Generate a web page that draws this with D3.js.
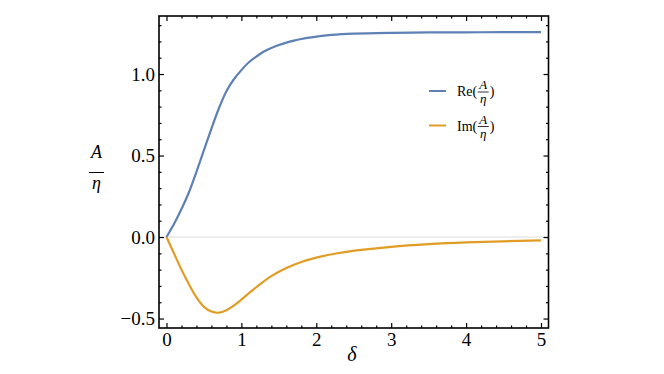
<!DOCTYPE html>
<html><head><meta charset="utf-8">
<script src="https://cdn.jsdelivr.net/npm/d3@7"></script>
<style>
body{margin:0;background:#fff;}
svg{display:block;}
svg text{font-family:"Liberation Serif","Times New Roman",serif !important;}
</style></head>
<body><svg id="c" width="664" height="374"></svg>
<script>
const reDelta = [0,0.1,0.2,0.3,0.4,0.5,0.6,0.7,0.8,0.9,1.0,1.1,1.2,1.3,1.4,1.5,1.6,1.7,1.8,1.9,2.0,2.2,2.5,3,3.5,4,4.5,5];
const reValues = [0,0.08,0.172,0.275,0.40,0.533,0.665,0.79,0.895,0.968,1.024,1.072,1.107,1.138,1.16,1.178,1.193,1.205,1.215,1.223,1.23,1.24,1.248,1.253,1.255,1.256,1.257,1.257];
const imDelta = [0,0.1,0.2,0.3,0.4,0.5,0.6,0.7,0.8,0.9,1.0,1.1,1.2,1.4,1.6,1.8,2.0,2.3,2.6,3,3.5,4,4.5,5];
const imValues = [0,-0.10,-0.20,-0.29,-0.37,-0.428,-0.457,-0.464,-0.449,-0.42,-0.384,-0.345,-0.307,-0.24,-0.19,-0.153,-0.126,-0.098,-0.079,-0.060,-0.044,-0.033,-0.026,-0.021];
const xTicks = [0,1,2,3,4,5];
const xTickLabels = ["0","1","2","3","4","5"];
const yTicks = [-0.5,0,0.5,1.0];
const yTickLabels = ["\u22120.5","0.0","0.5","1.0"];
const seriesNames = ["Re","Im"];
const colors = ["#5E81B5","#E19C24"];

const svg = d3.select("#c");
const L=159, R=548.5, T=16, B=328;
const x = d3.scaleLinear().domain([-0.1,5.1]).range([L,R]);
const y = d3.scaleLinear().domain([-0.558,1.356]).range([B,T]);

const xMinor = d3.range(0,5.1,0.2).filter(v=>Math.abs(v-Math.round(v))>1e-6);
const yMinor = d3.range(-0.5,1.31,0.1).filter(v=>Math.abs(v*2-Math.round(v*2))>1e-6);

svg.append("line").attr("x1",L).attr("x2",R).attr("y1",y(0)).attr("y2",y(0))
  .attr("stroke","#dcdcdc").attr("stroke-width",1);

const line = d3.line().x(d=>x(d[0])).y(d=>y(d[1])).curve(d3.curveCatmullRom.alpha(0.5));
const data = [d3.zip(reDelta,reValues), d3.zip(imDelta,imValues)];
data.forEach((d,i)=>{
  svg.append("path").attr("d",line(d)).attr("fill","none")
    .attr("stroke",colors[i]).attr("stroke-width",2.2).attr("stroke-linejoin","round");
});

function styleAxis(g){
  g.attr("font-family",null);
  g.select(".domain").remove();
  g.selectAll(".tick line").attr("stroke","#000").attr("stroke-width",1.2);
  g.selectAll("text").attr("font-size",19).attr("fill","#000");
}
svg.append("g").attr("transform",`translate(0,${B})`)
  .call(d3.axisBottom(x).tickValues(xTicks).tickFormat((d,i)=>xTickLabels[i]).tickSize(-5).tickPadding(5))
  .call(styleAxis);
svg.append("g").attr("transform",`translate(0,${B})`)
  .call(d3.axisBottom(x).tickValues(xMinor).tickFormat("").tickSize(-2.5)).call(styleAxis);
svg.append("g").attr("transform",`translate(0,${T})`)
  .call(d3.axisTop(x).tickValues(xTicks).tickFormat("").tickSize(-5)).call(styleAxis);
svg.append("g").attr("transform",`translate(0,${T})`)
  .call(d3.axisTop(x).tickValues(xMinor).tickFormat("").tickSize(-2.5)).call(styleAxis);
svg.append("g").attr("transform",`translate(${L},0)`)
  .call(d3.axisLeft(y).tickValues(yTicks).tickFormat((d,i)=>yTickLabels[i]).tickSize(-5).tickPadding(4))
  .call(styleAxis);
svg.append("g").attr("transform",`translate(${L},0)`)
  .call(d3.axisLeft(y).tickValues(yMinor).tickFormat("").tickSize(-2.5)).call(styleAxis);
svg.append("g").attr("transform",`translate(${R},0)`)
  .call(d3.axisRight(y).tickValues(yTicks).tickFormat("").tickSize(-5)).call(styleAxis);
svg.append("g").attr("transform",`translate(${R},0)`)
  .call(d3.axisRight(y).tickValues(yMinor).tickFormat("").tickSize(-2.5)).call(styleAxis);

svg.append("rect").attr("x",L).attr("y",T).attr("width",R-L).attr("height",B-T)
  .attr("fill","none").attr("stroke","#000").attr("stroke-width",1.6);

svg.append("text").attr("x",352).attr("y",361).attr("text-anchor","middle")
  .attr("font-size",20).attr("font-style","italic").text("\u03b4");
svg.append("text").attr("x",96.5).attr("y",158).attr("text-anchor","middle")
  .attr("font-size",18).attr("font-style","italic").text("A");
svg.append("line").attr("x1",89).attr("x2",104).attr("y1",172.5).attr("y2",172.5)
  .attr("stroke","#000").attr("stroke-width",1);
svg.append("text").attr("x",96.5).attr("y",189).attr("text-anchor","middle")
  .attr("font-size",18).attr("font-style","italic").text("\u03b7");

const legY = [91,125.5];
seriesNames.forEach((n,i)=>{
  const g = svg.append("g");
  const cy = legY[i];
  g.append("line").attr("x1",429).attr("x2",446).attr("y1",cy).attr("y2",cy)
    .attr("stroke",colors[i]).attr("stroke-width",2);
  const t = g.append("text").attr("x",457).attr("y",cy+5).attr("font-size",14).text(n+"(");
  const w = t.node().getComputedTextLength();
  const fx = 457 + w + 0.5;
  g.append("text").attr("x",fx+5.5).attr("y",cy-2).attr("text-anchor","middle")
    .attr("font-size",13).attr("font-style","italic").text("A");
  g.append("line").attr("x1",fx).attr("x2",fx+11).attr("y1",cy+1).attr("y2",cy+1)
    .attr("stroke","#000").attr("stroke-width",0.8);
  g.append("text").attr("x",fx+5.5).attr("y",cy+12).attr("text-anchor","middle")
    .attr("font-size",13).attr("font-style","italic").text("\u03b7");
  g.append("text").attr("x",fx+12).attr("y",cy+5).attr("font-size",14).text(")");
});
</script></body></html>
